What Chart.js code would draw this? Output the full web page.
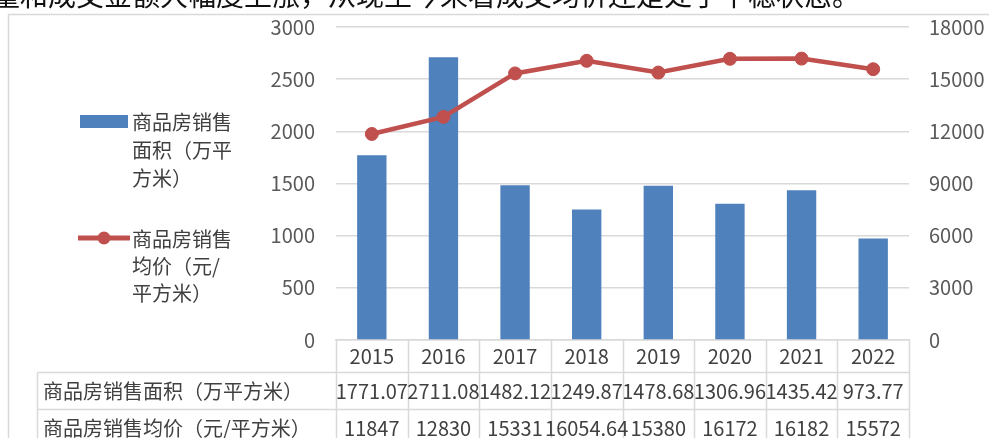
<!DOCTYPE html>
<html lang="zh-CN">
<head>
<meta charset="utf-8">
<title>商品房销售面积与均价</title>
<script src="https://cdn.jsdelivr.net/npm/chart.js@4.4.1/dist/chart.umd.min.js"></script>
<style>
    html, body { margin: 0; padding: 0; background: #fff; overflow: hidden; }
    #wrap { position: relative; width: 989px; height: 438px; overflow: hidden; }
    #intro {
        position: absolute; left: -8px; top: -23px;
        font: 28px "Noto Sans CJK SC", sans-serif; color: #111;
        white-space: nowrap; line-height: 34px;
    }
    #salesChart { position: absolute; left: 0; top: 0; }
</style>
</head>
<body>
<div id="wrap">
    <canvas id="salesChart" width="989" height="438"></canvas>
    <div id="intro">量和成交金额大幅度上涨，从现至今来看成交均价还是处于平稳状态。</div>
</div>
<script>
// data
const years = ['2015', '2016', '2017', '2018', '2019', '2020', '2021', '2022'];
const areaValues = [1771.07, 2711.08, 1482.12, 1249.87, 1478.68, 1306.96, 1435.42, 973.77];
const priceValues = [11847, 12830, 15331, 16054.64, 15380, 16172, 16182, 15572];
const areaLabel = '商品房销售面积（万平方米）';
const priceLabel = '商品房销售均价（元/平方米）';
const areaLegendLines = ['商品房销售', '面积（万平', '方米）'];
const priceLegendLines = ['商品房销售', '均价（元/', '平方米）'];
const areaAxisMax = 3000;
const areaAxisStep = 500;
const priceAxisMax = 18000;
const priceAxisStep = 3000;

(function () {
    'use strict';

    const FONT = '"Noto Sans CJK SC", sans-serif';
    const BAR_COLOR = '#4F81BD';
    const LINE_COLOR = '#C0504D';
    const GRID_COLOR = '#D9D9D9';
    const TICK_COLOR = '#595959';
    const TABLE_TEXT = '#404040';

    Chart.defaults.font.family = FONT;
    Chart.defaults.font.size = 20;
    Chart.defaults.color = TICK_COLOR;

    // frame, legend and data table drawn around the plot
    const tablePlugin = {
        id: 'tablePlugin',
        beforeDraw(chart) {
            const ctx = chart.ctx;
            ctx.save();
            ctx.strokeStyle = GRID_COLOR;
            ctx.lineWidth = 1.5;
            ctx.beginPath();
            ctx.moveTo(8, 14.5);
            ctx.lineTo(989, 14.5);
            ctx.moveTo(8.5, 14);
            ctx.lineTo(8.5, 438);
            ctx.stroke();
            ctx.restore();
        },
        afterDraw(chart) {
            const ctx = chart.ctx;
            const x = chart.scales.x;
            const area = chart.chartArea;
            const half = (x.getPixelForValue(1) - x.getPixelForValue(0)) / 2;
            const row1Top = 372.5;
            const row2Top = 409.5;
            const labelLeft = 37.5;

            ctx.save();
            ctx.strokeStyle = GRID_COLOR;
            ctx.lineWidth = 1.5;
            ctx.beginPath();
            for (let i = 0; i <= years.length; i++) {
                const bx = Math.round(x.getPixelForValue(i) - half) + 0.5;
                ctx.moveTo(bx, area.bottom);
                ctx.lineTo(bx, 438);
            }
            ctx.moveTo(labelLeft, row1Top);
            ctx.lineTo(area.right, row1Top);
            ctx.moveTo(labelLeft, row2Top);
            ctx.lineTo(area.right, row2Top);
            ctx.moveTo(labelLeft, row1Top);
            ctx.lineTo(labelLeft, 438);
            ctx.stroke();

            ctx.font = '20px ' + FONT;
            ctx.fillStyle = TABLE_TEXT;
            ctx.textBaseline = 'middle';
            ctx.textAlign = 'left';
            ctx.fillText(areaLabel, 43, 391);
            ctx.fillText(priceLabel, 43, 428);
            ctx.textAlign = 'center';
            years.forEach(function (year, i) {
                const cx = x.getPixelForValue(i);
                ctx.fillText(String(areaValues[i]), cx, 391);
                ctx.fillText(String(priceValues[i]), cx, 428);
            });

            // legend on the left
            ctx.fillStyle = BAR_COLOR;
            ctx.fillRect(80, 115, 48, 13);
            ctx.strokeStyle = LINE_COLOR;
            ctx.lineWidth = 5;
            ctx.beginPath();
            ctx.moveTo(78, 238);
            ctx.lineTo(130, 238);
            ctx.stroke();
            ctx.fillStyle = LINE_COLOR;
            ctx.beginPath();
            ctx.arc(104, 238, 6.5, 0, Math.PI * 2);
            ctx.fill();

            ctx.fillStyle = TABLE_TEXT;
            ctx.textAlign = 'left';
            areaLegendLines.forEach(function (line, i) {
                ctx.fillText(line, 132, 122 + i * 28);
            });
            priceLegendLines.forEach(function (line, i) {
                ctx.fillText(line, 132, 239 + i * 27);
            });
            ctx.restore();
        }
    };

    const plainTick = function (value) {
        return String(value);
    };

    // fixed axis sizes so the plot lands where the reference has it
    const fitWidth = function (w) {
        return function (scale) {
            scale.width = w;
            scale.paddingTop = 0;
            scale.paddingBottom = 0;
        };
    };

    const ctx = document.getElementById('salesChart').getContext('2d');
    new Chart(ctx, {
        data: {
            labels: years,
            datasets: [
                {
                    type: 'line',
                    label: priceLabel,
                    data: priceValues,
                    yAxisID: 'y1',
                    borderColor: LINE_COLOR,
                    backgroundColor: LINE_COLOR,
                    borderWidth: 4.5,
                    pointRadius: 6.5,
                    pointBorderWidth: 1,
                    pointBackgroundColor: LINE_COLOR,
                    tension: 0,
                    order: 0
                },
                {
                    type: 'bar',
                    label: areaLabel,
                    data: areaValues,
                    yAxisID: 'y',
                    backgroundColor: BAR_COLOR,
                    categoryPercentage: 1,
                    barPercentage: 0.41,
                    order: 1
                }
            ]
        },
        options: {
            responsive: false,
            animation: false,
            devicePixelRatio: 1,
            layout: { padding: { top: 27, left: 0, right: 0, bottom: 0 } },
            plugins: {
                legend: { display: false },
                tooltip: { enabled: false }
            },
            scales: {
                x: {
                    offset: true,
                    grid: { display: false, drawTicks: false },
                    border: { display: true, color: GRID_COLOR, width: 1.5 },
                    ticks: { padding: 4, color: TABLE_TEXT, maxRotation: 0, autoSkip: false },
                    afterFit(scale) {
                        scale.height = 98;
                        scale.paddingLeft = 0;
                        scale.paddingRight = 0;
                    }
                },
                y: {
                    position: 'left',
                    min: 0,
                    max: areaAxisMax,
                    ticks: { stepSize: areaAxisStep, padding: 21, color: TICK_COLOR, callback: plainTick },
                    grid: { color: GRID_COLOR, lineWidth: 1.5, drawTicks: false },
                    border: { display: false },
                    afterFit: fitWidth(336)
                },
                y1: {
                    position: 'right',
                    min: 0,
                    max: priceAxisMax,
                    ticks: { stepSize: priceAxisStep, padding: 20, color: TICK_COLOR, callback: plainTick },
                    grid: { drawOnChartArea: false, drawTicks: false },
                    border: { display: false },
                    afterFit: fitWidth(80)
                }
            }
        },
        plugins: [tablePlugin]
    });
})();
</script>
</body>
</html>
